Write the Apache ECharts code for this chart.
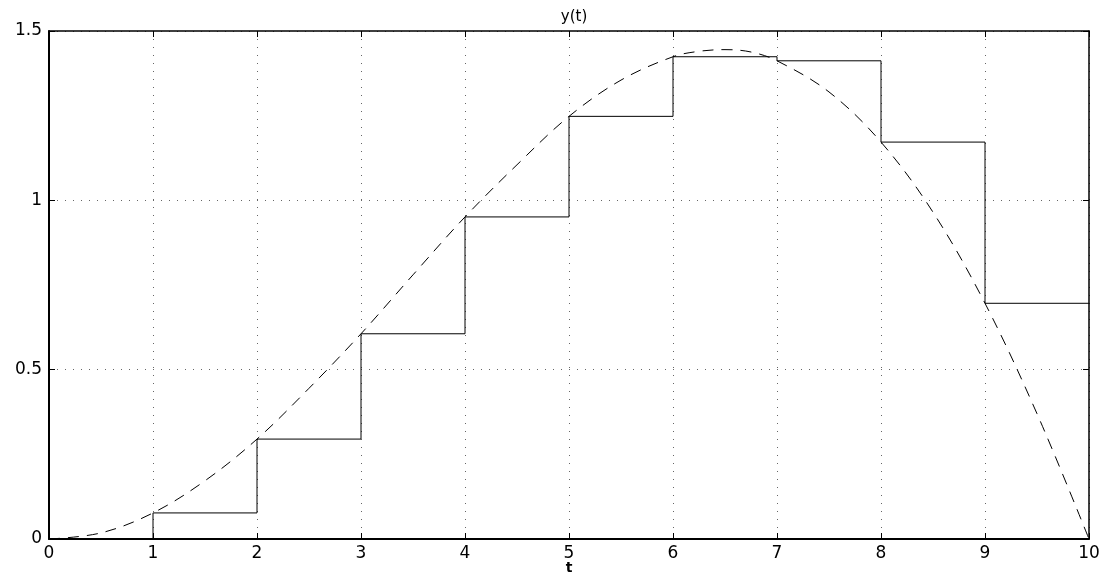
<!DOCTYPE html>
<html>
<head>
<meta charset="utf-8">
<script src="https://cdn.jsdelivr.net/npm/echarts@6/dist/echarts.min.js"></script>
<style>html,body{margin:0;padding:0;background:#fff}#c{width:1102px;height:578px}</style>
</head>
<body>
<div id="c"></div>
<script>
// Sampled (zero-order hold) values at t = 0..9, held to t = 10
const stepT = [0, 1, 2, 3, 4, 5, 6, 7, 8, 9, 10];
const stepY = [0, 0.077, 0.295, 0.606, 0.951, 1.248, 1.424, 1.412, 1.172, 0.696, 0.696];
// Continuous response y(t) (dashed)
const curveT = [0, 0.5, 1, 1.5, 2, 2.5, 3, 3.5, 4, 4.5, 5, 5.5, 6, 6.25, 6.5, 6.75, 7, 7.5, 8, 8.5, 9, 9.5, 10];
const curveY = [0, 0.018, 0.077, 0.172, 0.295, 0.445, 0.606, 0.78, 0.951, 1.105, 1.248, 1.355, 1.424, 1.44, 1.445, 1.438, 1.412, 1.32, 1.172, 0.965, 0.696, 0.37, 0];
const xTicks = [0, 10, 1];   // min, max, interval
const yTicks = [0, 1.5, 0.5];
const titleText = 'y(t)';
const xName = 't';

const font = 'DejaVu Sans';
const stepData = stepT.map((t, i) => [t, stepY[i]]);
const curveData = curveT.map((t, i) => [t, curveY[i]]);

const mainAxisLine = { show: true, onZero: false, lineStyle: { color: '#000', width: 2 } };
const otherAxisLine = { show: true, onZero: false, lineStyle: { color: '#000', width: 1.5 } };
const tick = { show: true, inside: true, length: 6, lineStyle: { color: '#000', width: 1 } };
const split = { show: true, lineStyle: { color: '#666', type: [1, 7], width: 1 } };

const chart = echarts.init(document.getElementById('c'), null, { renderer: 'canvas' });
chart.setOption({
  animation: false,
  backgroundColor: '#fff',
  title: {
    text: titleText, left: 569, top: 5, textAlign: 'center',
    textStyle: { fontFamily: font, fontSize: 15, fontWeight: 'normal', color: '#000' }
  },
  grid: { left: 49, right: 13, top: 31, bottom: 39, containLabel: false, outerBoundsMode: 'none' },
  xAxis: [
    {
      type: 'value', min: xTicks[0], max: xTicks[1], interval: xTicks[2], position: 'bottom',
      name: xName, nameLocation: 'middle', nameGap: 22, nameMoveOverlap: false,
      nameTextStyle: { fontFamily: font, fontSize: 14, fontWeight: 'bold', color: '#000' },
      axisLine: mainAxisLine, axisTick: tick, splitLine: split,
      axisLabel: { fontFamily: font, fontSize: 17, color: '#000', margin: 6 }
    },
    {
      type: 'value', min: xTicks[0], max: xTicks[1], interval: xTicks[2], position: 'top',
      axisLine: otherAxisLine, axisTick: tick, splitLine: { show: false }, axisLabel: { show: false }
    }
  ],
  yAxis: [
    {
      type: 'value', min: yTicks[0], max: yTicks[1], interval: yTicks[2], position: 'left',
      axisLine: mainAxisLine, axisTick: tick, splitLine: split,
      axisLabel: { fontFamily: font, fontSize: 17, color: '#000', margin: 7 }
    },
    {
      type: 'value', min: yTicks[0], max: yTicks[1], interval: yTicks[2], position: 'right',
      axisLine: otherAxisLine, axisTick: tick, splitLine: { show: false }, axisLabel: { show: false }
    }
  ],
  series: [
    {
      type: 'line', data: curveData, smooth: 0.35, showSymbol: false, symbol: 'none',
      lineStyle: { color: '#000', width: 1, type: [11, 8] }, z: 3
    },
    {
      type: 'line', data: stepData, step: 'end', showSymbol: false, symbol: 'none',
      lineStyle: { color: '#000', width: 1 }, z: 4
    }
  ]
});
</script>
</body>
</html>
